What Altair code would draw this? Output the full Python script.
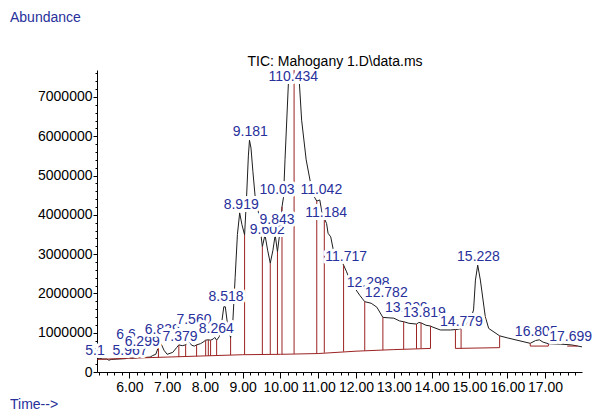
import altair as alt
import pandas as pd

# ---------------- data ----------------
trace_time = [5.15, 5.22, 5.30, 5.40, 5.46, 5.52, 5.70, 5.90, 5.97, 6.05, 6.20, 6.30, 6.40, 6.55, 6.62,
              6.70, 6.77, 6.84, 6.92, 7.00, 7.15, 7.25, 7.31, 7.40, 7.49, 7.56, 7.65, 7.72, 7.78, 7.88,
              7.95, 8.02, 8.09, 8.15, 8.22, 8.26, 8.31, 8.38, 8.45, 8.50, 8.54, 8.60, 8.68, 8.74, 8.80,
              8.86, 8.92, 8.98, 9.05, 9.10, 9.15, 9.18, 9.22, 9.27, 9.33, 9.42, 9.47, 9.52, 9.59, 9.66,
              9.73, 9.80, 9.86, 9.92, 9.99, 10.04, 10.08, 10.12, 10.21, 10.30, 10.40, 10.46, 10.50, 10.56,
              10.68, 10.79, 10.90, 10.96, 11.04, 11.10, 11.16, 11.22, 11.26, 11.33, 11.40, 11.50, 11.60,
              11.67, 11.75, 11.85, 12.00, 12.10, 12.23, 12.40, 12.55, 12.71, 12.85, 13.00, 13.15, 13.26,
              13.40, 13.60, 13.66, 13.72, 13.85, 13.97, 14.01, 14.23, 14.50, 14.63, 14.70, 14.80, 14.95,
              15.05, 15.11, 15.16, 15.22, 15.29, 15.42, 15.51, 15.80, 16.00, 16.26, 16.61, 16.75, 16.85,
              16.95, 17.09, 17.41, 17.70, 17.98]
trace_abund = [330000, 350000, 330000, 330000, 300000, 320000, 330000, 340000, 370000, 350000, 360000,
               400000, 370000, 380000, 420000, 450000, 640000, 720000, 550000, 450000, 500000, 620000,
               690000, 670000, 690000, 800000, 680000, 660000, 690000, 720000, 760000, 810000, 820000,
               810000, 840000, 880000, 810000, 900000, 1300000, 1660000, 1660000, 1200000, 870000,
               1300000, 2400000, 3500000, 4050000, 3750000, 3490000, 4400000, 5500000, 5900000, 5700000,
               5100000, 4460000, 4040000, 3600000, 3190000, 3490000, 3100000, 2770000, 3100000, 3490000,
               3060000, 3610000, 4200000, 4450000, 5400000, 7360000, 8600000, 9200000, 8600000, 7360000,
               6410000, 5400000, 4840000, 4450000, 4350000, 4380000, 4050000, 3910000, 3780000, 3530000,
               3440000, 3100000, 3000000, 2850000, 2720000, 2550000, 2300000, 2090000, 1950000, 1790000,
               1750000, 1650000, 1390000, 1380000, 1370000, 1300000, 1280000, 1240000, 1220000, 1260000,
               1250000, 1190000, 1170000, 1150000, 1070000, 1070000, 1080000, 1090000, 1110000, 1250000,
               1400000, 1580000, 2340000, 2720000, 2340000, 1410000, 1110000, 920000, 870000, 810000,
               730000, 800000, 820000, 760000, 720000, 710000, 690000, 640000]

base_seg = ["A"] * 10 + ["B"] * 2 + ["C"] * 2 + ["D"] * 2
base_time = [5.15, 6.0, 7.0, 8.0, 9.0, 10.0, 11.0, 12.0, 13.0, 13.97,
             14.63, 15.80, 16.61, 17.09, 17.59, 17.86]
base_abund = [320000, 350000, 380000, 410000, 440000, 450000, 470000, 530000, 570000, 600000,
              600000, 620000, 660000, 660000, 660000, 660000]

drop_time = [6.77, 7.31, 7.49, 7.78, 8.02, 8.09, 8.15, 8.31, 8.68, 9.05, 9.52, 9.73, 9.92, 10.04,
             10.36, 10.96, 11.16, 11.67, 12.23, 12.71, 13.26, 13.60, 13.72, 13.97, 14.63, 14.78,
             15.80, 16.61, 17.09]
drop_top = [640000, 690000, 690000, 690000, 810000, 820000, 810000, 810000, 870000, 3490000,
            3190000, 2770000, 3060000, 4200000, 8900000, 4350000, 3910000, 2720000, 1790000,
            1390000, 1280000, 1220000, 1250000, 1170000, 1080000, 1110000, 920000, 730000, 720000]
drop_bot = [360000, 380000, 390000, 400000, 410000, 410000, 410000, 420000, 430000, 440000,
            450000, 450000, 450000, 450000, 460000, 480000, 490000, 520000, 540000, 560000,
            580000, 590000, 600000, 600000, 600000, 600000, 620000, 660000, 660000]

peak_labels = ["5.1", "5.967", "6.6", "6.299", "6.839", "7.560", "7.379", "8.264", "8.518", "8.919",
               "9.181", "9.602", "9.843", "10.03", "110.434", "11.042", "11.184", "11.717", "12.298",
               "12.782", "13.309", "13.819", "14.779", "15.228", "16.805", "17.699"]
label_time = [5.09, 6.02, 5.91, 6.34, 6.87, 7.71, 7.34, 8.30, 8.56, 8.96, 9.20, 9.65, 9.91, 9.91,
              10.34, 11.08, 11.21, 11.74, 12.32, 12.80, 13.33, 13.81, 14.79, 15.24, 16.77, 17.68]
label_abund = [530000, 530000, 940000, 760000, 1070000, 1320000, 890000, 1090000, 1910000, 4250000,
               6110000, 3610000, 3870000, 4630000, 7510000, 4630000, 4050000, 2930000, 2270000,
               2010000, 1630000, 1500000, 1270000, 2930000, 1020000, 890000]

title_text = "TIC: Mahogany 1.D\\data.ms"
y_title = "Abundance"
x_title = "Time-->"

# ---------------- styling ----------------
FONT = "Liberation Sans"
FS = 14
BLUE = "#27309b"
RED = "#9c2222"
X_DOMAIN = [5.144, 17.98]
Y_DOMAIN = [0, 7687000]

x_ticks = [round(5.2 + 0.2 * i, 1) for i in range(65)]
y_ticks = [200000 * i for i in range(39)]

x_axis = alt.Axis(
    values=x_ticks, tickCount=500,
    labelExpr="abs(datum.value - round(datum.value)) < 0.001 ? format(datum.value, '.2f') : ''",
    tickSize={"condition": {"test": "abs(datum.value - round(datum.value)) < 0.001", "value": 6}, "value": 3},
    title=None, grid=False, domainColor="black", tickColor="black",
    labelFont=FONT, labelFontSize=FS, labelColor="black", labelPadding=2,
    labelOverlap=False, labelFlush=False, zindex=0,
)
y_axis = alt.Axis(
    values=y_ticks, tickCount=500,
    labelExpr="datum.value % 1000000 === 0 ? format(datum.value, 'd') : ''",
    tickSize={"condition": {"test": "datum.value % 1000000 === 0", "value": 4}, "value": 2},
    title=None, grid=False, domainColor="black", tickColor="black",
    labelFont=FONT, labelFontSize=FS, labelColor="black", labelPadding=1,
    labelOverlap=False, labelFlush=False, zindex=0,
)

xs = alt.Scale(domain=X_DOMAIN, nice=False, zero=False)
ys = alt.Scale(domain=Y_DOMAIN, nice=False)

trace_df = pd.DataFrame({"t": trace_time, "v": trace_abund})
base_df = pd.DataFrame({"seg": base_seg, "t": base_time, "v": base_abund})
drop_df = pd.DataFrame({"t": drop_time, "top": drop_top, "bot": drop_bot})

rows = []
for i, (lab, t, v) in enumerate(zip(peak_labels, label_time, label_abund)):
    rows.append({"lab": lab, "t": t, "v": v, "ord": 2 * i, "fill": "white", "stroke": "white", "sw": 6})
    rows.append({"lab": lab, "t": t, "v": v, "ord": 2 * i + 1, "fill": BLUE, "stroke": BLUE, "sw": 0})
label_df = pd.DataFrame(rows)

trace = alt.Chart(trace_df).mark_line(color="#1e1e1e", strokeWidth=1, clip=True).encode(
    x=alt.X("t:Q", scale=xs, axis=x_axis),
    y=alt.Y("v:Q", scale=ys, axis=y_axis),
)

baseline = alt.Chart(base_df).mark_line(color=RED, strokeWidth=1, clip=True).encode(
    x=alt.X("t:Q", scale=xs), y=alt.Y("v:Q", scale=ys), detail="seg:N"
)

drops = alt.Chart(drop_df).mark_rule(color=RED, strokeWidth=1, clip=True).encode(
    x=alt.X("t:Q", scale=xs), y=alt.Y("top:Q", scale=ys), y2="bot:Q"
)

labels = alt.Chart(label_df).mark_text(
    font=FONT, fontSize=FS, align="center", baseline="middle", strokeJoin="round"
).encode(
    x=alt.X("t:Q", scale=xs),
    y=alt.Y("v:Q", scale=ys),
    text="lab:N",
    fill=alt.Fill("fill:N", scale=None),
    stroke=alt.Stroke("stroke:N", scale=None),
    strokeWidth=alt.StrokeWidth("sw:Q", scale=None),
    order=alt.Order("ord:Q"),
)

title = alt.Chart(pd.DataFrame({"s": [title_text]})).mark_text(
    font=FONT, fontSize=FS, align="center", baseline="middle", color="black"
).encode(text="s:N", x=alt.value(238), y=alt.value(-8))

ytitle = alt.Chart(pd.DataFrame({"s": [y_title]})).mark_text(
    font=FONT, fontSize=FS, align="left", baseline="middle", color=BLUE
).encode(text="s:N", x=alt.value(-87), y=alt.value(-52))

xtitle = alt.Chart(pd.DataFrame({"s": [x_title]})).mark_text(
    font=FONT, fontSize=FS, align="left", baseline="middle", color=BLUE
).encode(text="s:N", x=alt.value(-87), y=alt.value(335))

chart = alt.layer(trace, baseline, drops, labels, title, ytitle, xtitle).properties(
    width=485, height=302,
    autosize=alt.AutoSizeParams(type="none"),
    padding={"left": 97, "top": 70, "right": 11, "bottom": 41},
    background="white",
).configure_view(stroke=None)

chart.save("out.html", embed_options={"renderer": "svg", "actions": False})
